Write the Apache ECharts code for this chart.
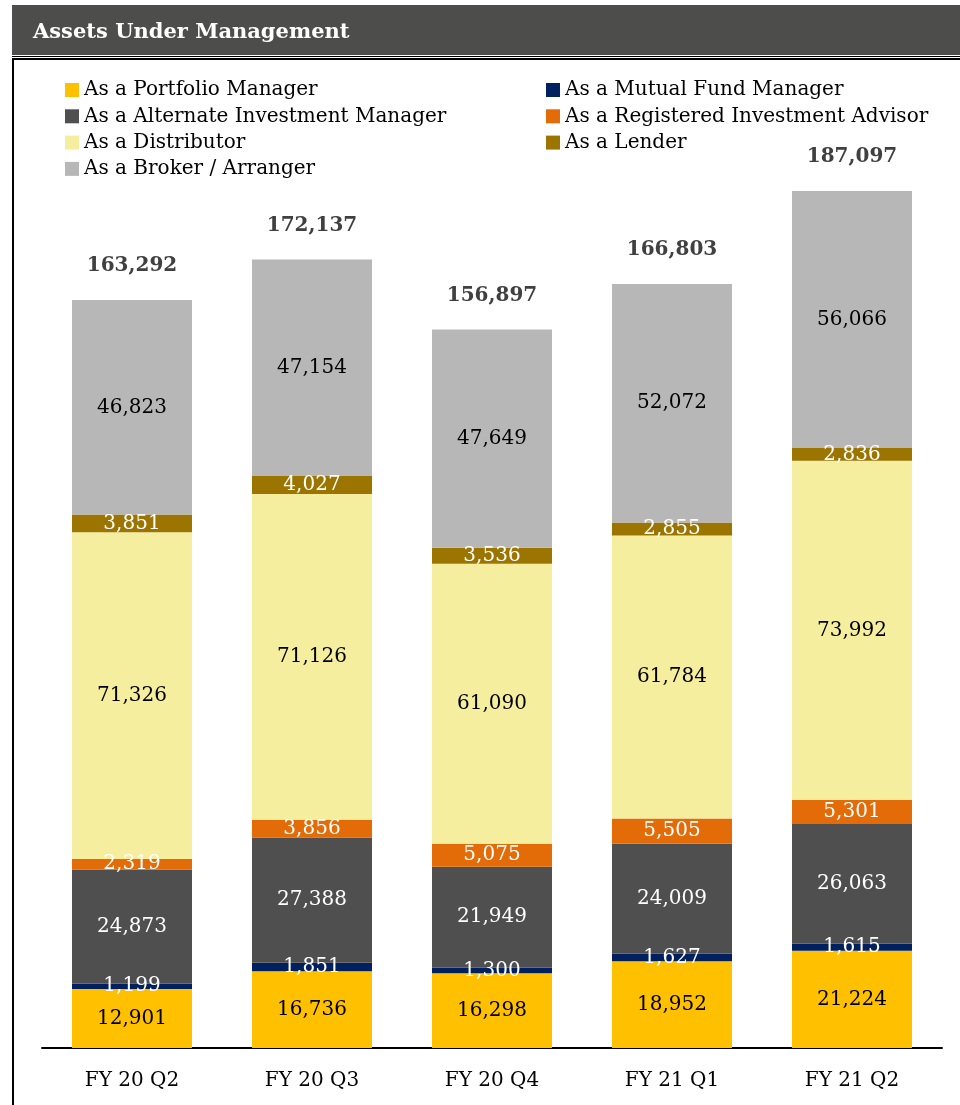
<!DOCTYPE html>
<html>
<head>
<meta charset="utf-8">
<script src="https://cdn.jsdelivr.net/npm/echarts@6/dist/echarts.min.js"></script>
<style>
  html, body { margin: 0; padding: 0; background: #fff; }
  #main { width: 960px; height: 1105px; }
</style>
</head>
<body>
<div id="main"></div>
<script>
var categories = ['FY 20 Q2', 'FY 20 Q3', 'FY 20 Q4', 'FY 21 Q1', 'FY 21 Q2'];
var portfolioManager = [12901, 16736, 16298, 18952, 21224];
var mutualFundManager = [1199, 1851, 1300, 1627, 1615];
var alternateManager = [24873, 27388, 21949, 24009, 26063];
var registeredAdvisor = [2319, 3856, 5075, 5505, 5301];
var distributor = [71326, 71126, 61090, 61784, 73992];
var lender = [3851, 4027, 3536, 2855, 2836];
var brokerArranger = [46823, 47154, 47649, 52072, 56066];
var totals = [163292, 172137, 156897, 166803, 187097];

var chartDom = document.getElementById('main');
var myChart = echarts.init(chartDom);
var font = 'DejaVu Serif';

function fmt(v) {
  return v.toLocaleString('en-US');
}

function seg(name, data, color, textColor) {
  return {
    name: name,
    type: 'bar',
    stack: 'aum',
    barWidth: 120,
    data: data,
    itemStyle: { color: color },
    label: {
      show: true,
      position: 'inside',
      color: textColor,
      fontFamily: font,
      fontSize: 20,
      formatter: function (p) { return fmt(p.value); }
    },
    emphasis: { disabled: true }
  };
}

var legendText = { fontFamily: font, fontSize: 20, color: '#000' };

var option = {
  animation: false,
  textStyle: { fontFamily: font },
  graphic: [
    { type: 'rect', shape: { x: 12, y: 5, width: 948, height: 50 }, style: { fill: '#4d4d4b' } },
    { type: 'text', left: 33, top: 22, style: { text: 'Assets Under Management', fill: '#fff', font: 'bold 21px "DejaVu Serif"' } },
    { type: 'line', shape: { x1: 12, y1: 56.5, x2: 960, y2: 56.5 }, style: { stroke: '#000', lineWidth: 1 } },
    { type: 'line', shape: { x1: 12, y1: 59, x2: 960, y2: 59 }, style: { stroke: '#000', lineWidth: 2 } },
    { type: 'line', shape: { x1: 13, y1: 58, x2: 13, y2: 1105 }, style: { stroke: '#000', lineWidth: 2 } }
  ],
  legend: [
    {
      orient: 'vertical', left: 60, top: 75, itemWidth: 14, itemHeight: 14, itemGap: 6.3,
      data: ['As a Portfolio Manager', 'As a Alternate Investment Manager', 'As a Distributor', 'As a Broker / Arranger'],
      textStyle: legendText, selectedMode: false, icon: 'rect'
    },
    {
      orient: 'vertical', left: 541, top: 75, itemWidth: 14, itemHeight: 14, itemGap: 6.3,
      data: ['As a Mutual Fund Manager', 'As a Registered Investment Advisor', 'As a Lender'],
      textStyle: legendText, selectedMode: false, icon: 'rect'
    }
  ],
  grid: { left: 42, right: 18, top: 132, bottom: 57 },
  xAxis: {
    type: 'category',
    data: categories,
    axisLine: { lineStyle: { color: '#000', width: 2 } },
    axisTick: { show: false },
    axisLabel: { color: '#000', fontFamily: font, fontSize: 20, margin: 23 }
  },
  yAxis: {
    type: 'value',
    min: 0,
    max: 200000,
    show: false
  },
  series: [
    seg('As a Portfolio Manager', portfolioManager, '#ffc000', '#000'),
    seg('As a Mutual Fund Manager', mutualFundManager, '#002060', '#fff'),
    seg('As a Alternate Investment Manager', alternateManager, '#4f4f4f', '#fff'),
    seg('As a Registered Investment Advisor', registeredAdvisor, '#e36c09', '#fff'),
    seg('As a Distributor', distributor, '#f5ee9e', '#000'),
    seg('As a Lender', lender, '#9c7400', '#fff'),
    seg('As a Broker / Arranger', brokerArranger, '#b7b7b7', '#000'),
    {
      name: 'Total',
      type: 'bar',
      stack: 'aum',
      barWidth: 120,
      data: totals.map(function () { return 0; }),
      label: {
        show: true,
        position: 'top',
        distance: 24,
        color: '#404040',
        fontFamily: font,
        fontWeight: 'bold',
        fontSize: 20,
        formatter: function (p) { return fmt(totals[p.dataIndex]); }
      },
      emphasis: { disabled: true }
    }
  ]
};

option && myChart.setOption(option);
</script>
</body>
</html>
